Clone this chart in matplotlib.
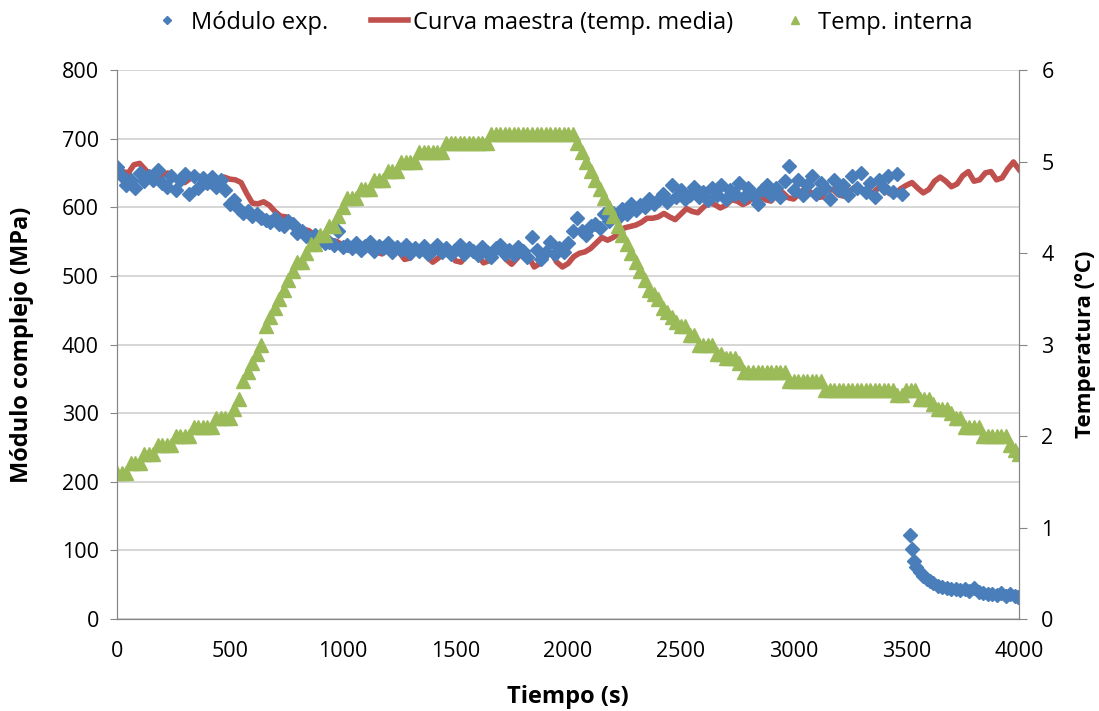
import matplotlib.pyplot as plt
import numpy as np

plt.rcParams['font.family'] = ['Open Sans', 'DejaVu Sans']

# Módulo exp. (MPa), muestras cada 20 s de 0 a 3480 s
tiempo_mod = np.arange(0, 3500, 20)
modulo_exp = [
    658, 645, 632, 640, 628, 650, 638, 645, 640, 655, 636, 630, 646, 625, 640, 648, 620, 645, 628, 642, 636, 644, 630, 640, 625,
    605, 610, 598, 592, 595, 588, 590, 585, 582, 578, 585, 575, 572, 580, 575, 562, 565, 558, 555, 560, 552, 548, 550, 545, 565,
    542, 545, 540, 548, 538, 543, 550, 536, 544, 540, 548, 535, 542, 538, 545, 534, 540, 536, 543, 532, 538, 545, 535, 540, 532,
    538, 545, 532, 540, 536, 530, 542, 535, 528, 540, 545, 532, 538, 530, 542, 536, 528, 556, 538, 525, 535, 550, 532, 540, 535,
    548, 565, 585, 566, 560, 572, 576, 570, 590, 580, 592, 585, 598, 590, 605, 596, 604, 600, 612, 605, 610, 620, 608, 632, 615,
    625, 612, 618, 630, 615, 622, 610, 628, 618, 632, 612, 625, 620, 635, 615, 628, 618, 605, 625, 632, 618, 628, 615, 638, 660,
    625, 640, 618, 632, 645, 620, 635, 628, 612, 640, 625, 632, 618, 645, 628, 650, 622, 635, 615, 640, 628, 645, 622, 648, 620,
]
# tramo final (caída del módulo)
tiempo_mod_fin = [3515, 3525, 3535, 3545, 3560, 3575, 3590, 3605, 3620, 3640, 3660, 3680, 3700, 3720,
                  3740, 3760, 3780, 3800, 3820, 3840, 3860, 3880, 3900, 3920, 3940, 3960, 3980, 3995]
modulo_exp_fin = [123, 102, 84, 76, 68, 63, 58, 55, 52, 48, 47, 45, 43, 44,
                  42, 44, 41, 45, 40, 38, 36, 37, 35, 38, 34, 36, 33, 32]

# Curva maestra (MPa), cada 25 s de 0 a 4000 s
tiempo_curva = np.arange(0, 4001, 25)
curva_maestra = [
    659, 652, 650, 662, 664, 655, 645, 642,
    646, 650, 645, 638, 636, 642, 647, 643,
    636, 634, 640, 644, 641, 640, 636, 620,
    606, 605, 608, 603, 594, 587, 586, 580,
    573, 568, 566, 560, 556, 553, 552, 550,
    545, 538, 536, 542, 548, 545, 535, 532,
    538, 542, 535, 524, 526, 536, 538, 528,
    520, 526, 537, 535, 522, 520, 530, 538,
    530, 519, 522, 534, 536, 524, 517, 526,
    536, 528, 513, 518, 532, 534, 520, 513,
    518, 528, 533, 535, 540, 548, 556, 552,
    556, 562, 570, 572, 574, 578, 584, 584,
    586, 591, 586, 582, 590, 598, 594, 592,
    600, 607, 604, 599, 603, 611, 609, 604,
    608, 617, 618, 611, 609, 618, 622, 614,
    612, 620, 627, 622, 614, 615, 625, 626,
    618, 616, 624, 630, 624, 617, 620, 628,
    628, 620, 619, 627, 632, 636, 628, 621,
    626, 638, 644, 638, 630, 634, 646, 652,
    638, 640, 650, 652, 640, 643, 656, 666,
    655,
]

# Temp. interna (ºC), cada 20 s de 0 a 4000 s
tiempo_temp = np.arange(0, 4001, 20)
temp_interna = [
    1.6, 1.6, 1.6, 1.7, 1.7, 1.7, 1.8, 1.8, 1.8, 1.9,
    1.9, 1.9, 1.9, 2.0, 2.0, 2.0, 2.0, 2.1, 2.1, 2.1,
    2.1, 2.1, 2.2, 2.2, 2.2, 2.2, 2.3, 2.4, 2.6, 2.7,
    2.8, 2.9, 3.0, 3.2, 3.3, 3.4, 3.5, 3.6, 3.7, 3.8,
    3.9, 3.9, 4.0, 4.1, 4.1, 4.2, 4.2, 4.3, 4.3, 4.4,
    4.5, 4.6, 4.6, 4.6, 4.7, 4.7, 4.7, 4.8, 4.8, 4.8,
    4.9, 4.9, 4.9, 5.0, 5.0, 5.0, 5.0, 5.1, 5.1, 5.1,
    5.1, 5.1, 5.1, 5.2, 5.2, 5.2, 5.2, 5.2, 5.2, 5.2,
    5.2, 5.2, 5.2, 5.3, 5.3, 5.3, 5.3, 5.3, 5.3, 5.3,
    5.3, 5.3, 5.3, 5.3, 5.3, 5.3, 5.3, 5.3, 5.3, 5.3,
    5.3, 5.3, 5.2, 5.1, 5.0, 4.9, 4.8, 4.7, 4.6, 4.5,
    4.4, 4.3, 4.2, 4.1, 4.0, 3.9, 3.8, 3.7, 3.6, 3.55,
    3.5, 3.4, 3.35, 3.3, 3.25, 3.2, 3.2, 3.1, 3.1, 3.0,
    3.0, 3.0, 3.0, 2.9, 2.9, 2.85, 2.85, 2.85, 2.8, 2.7,
    2.7, 2.7, 2.7, 2.7, 2.7, 2.7, 2.7, 2.7, 2.7, 2.6,
    2.6, 2.6, 2.6, 2.6, 2.6, 2.6, 2.6, 2.5, 2.5, 2.5,
    2.5, 2.5, 2.5, 2.5, 2.5, 2.5, 2.5, 2.5, 2.5, 2.5,
    2.5, 2.5, 2.5, 2.45, 2.45, 2.5, 2.5, 2.5, 2.4, 2.4,
    2.4, 2.35, 2.3, 2.3, 2.3, 2.25, 2.2, 2.2, 2.1, 2.1,
    2.1, 2.1, 2.0, 2.0, 2.0, 2.0, 2.0, 2.0, 1.9, 1.85,
    1.8,
]

azul = '#4a7ebb'
rojo = '#c0504d'
verde = '#9bbb59'
gris = '#868686'

fig = plt.figure(figsize=(10.99, 7.11), dpi=100)
ax = fig.add_axes([0.1065, 0.1294, 0.8208, 0.7721])
ax2 = ax.twinx()

linea, = ax.plot(tiempo_curva, curva_maestra, color=rojo, lw=4, zorder=2,
                 label='Curva maestra (temp. media)')
ax.plot(tiempo_mod_fin, modulo_exp_fin, 'D', color=azul, ms=7.5, mec=azul, zorder=3)
puntos, = ax.plot(tiempo_mod, modulo_exp, 'D', color=azul, ms=7.5, mec=azul, zorder=3,
                  label='Módulo exp.')
triang, = ax2.plot(tiempo_temp, temp_interna, '^', color=verde, ms=10.5, mec=verde,
                   label='Temp. interna')

ax.set_xlim(0, 4000)
ax.set_ylim(0, 800)
ax2.set_ylim(0, 6)
ax.set_xticks(np.arange(0, 4001, 500))
ax.set_yticks(np.arange(0, 801, 100))
ax2.set_yticks(np.arange(0, 7, 1))

ax.grid(axis='y', color='#d0d0d0', lw=1.2)
ax.set_axisbelow(True)
for a in (ax, ax2):
    for lado in a.spines.values():
        lado.set_color(gris)
    a.spines['top'].set_visible(False)
ax.tick_params(axis='x', length=0, pad=16, labelsize=15.5)
ax.tick_params(axis='y', length=5, color=gris, pad=8, labelsize=15.5)
ax2.tick_params(axis='y', length=6, color=gris, pad=10, labelsize=15.5)

ax.set_xlabel('Tiempo (s)', fontsize=17, fontweight='bold')
ax.set_ylabel('Módulo complejo (MPa)', fontsize=17, fontweight='bold')
ax2.set_ylabel('Temperatura (ºC)', fontsize=16, fontweight='bold')
ax.xaxis.set_label_coords(0.5, -0.12)
ax.yaxis.set_label_coords(-0.092, 0.5)
ax2.yaxis.set_label_coords(1.062, 0.5)

fig.legend(handles=[puntos, linea, triang], loc='center', bbox_to_anchor=(0.51, 0.968),
           ncol=3, frameon=False, fontsize=17, handlelength=1.6, handletextpad=0.2,
           columnspacing=1.8, markerscale=0.6)

fig.savefig('out.png', dpi=100)
